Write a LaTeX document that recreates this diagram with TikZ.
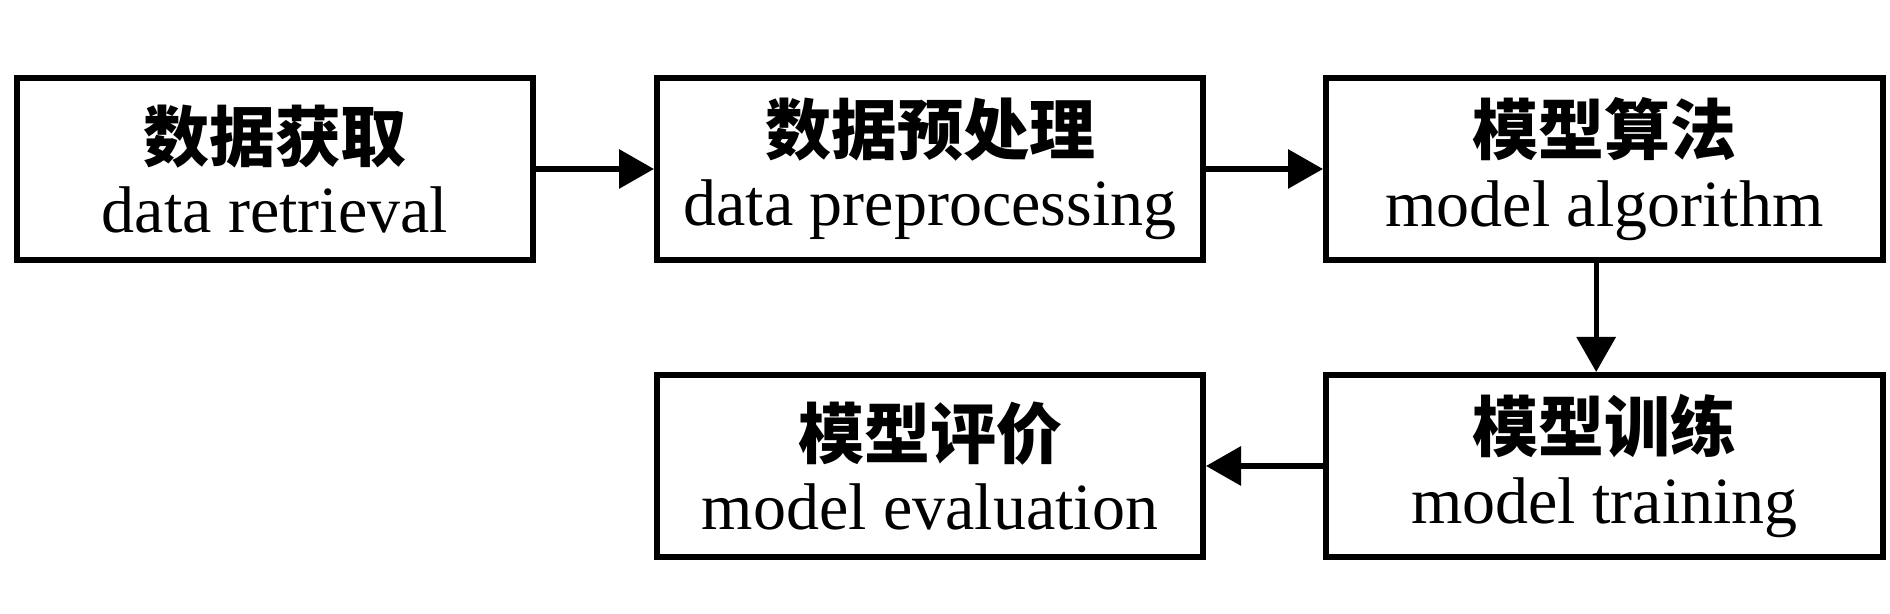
\documentclass[tikz,border=0pt]{standalone}
\usepackage{fontspec}
\setmainfont{Liberation Serif}
\newfontfamily\cjk{Noto Sans CJK SC}
\usetikzlibrary{arrows.meta}
\begin{document}
\begin{tikzpicture}[x=0.3pt,y=-0.3pt,
 box/.style={draw,line width=1.8pt,minimum height=54.6pt,inner sep=0pt,align=center,font=\fontsize{19.8}{21.5}\selectfont},
 arr/.style={line width=1.6pt,-{Triangle[length=10.5pt,width=11.5pt]}}]
\useasboundingbox (0,0) rectangle (1890,614);
\node[box,minimum width=154.8pt] (a) at (275,169) {{\cjk\bfseries 数据获取}\\data retrieval};
\node[box,minimum width=163.8pt] (b) at (930,169) {{\cjk\bfseries 数据预处理}\\data preprocessing};
\node[box,minimum width=167.1pt] (c) at (1604.5,169) {{\cjk\bfseries 模型算法}\\model algorithm};
\node[box,minimum width=163.8pt] (d) at (930,466) {{\cjk\bfseries 模型评价}\\model evaluation};
\node[box,minimum width=167.1pt] (e) at (1604.5,466) {{\cjk\bfseries 模型训练}\\model training};
\draw[arr] (a) -- (b);
\draw[arr] (b) -- (c);
\draw[arr] ([xshift=-2.5pt]c.south) -- ([xshift=-2.5pt]e.north);
\draw[arr] (e) -- (d);
\end{tikzpicture}
\end{document}
